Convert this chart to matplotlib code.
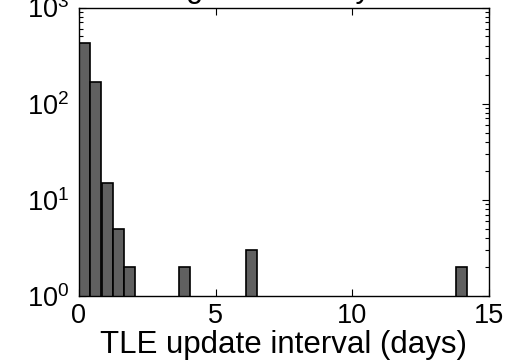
import matplotlib
matplotlib.use("Agg")
import matplotlib.pyplot as plt
from matplotlib.ticker import LogLocator, NullFormatter

plt.rcParams['font.family'] = ['Liberation Sans', 'DejaVu Sans']
plt.rcParams['mathtext.fontset'] = 'custom'
plt.rcParams['mathtext.rm'] = 'Liberation Sans'
plt.rcParams['mathtext.it'] = 'Liberation Sans'

# data
bin_centers = [0.20, 0.615, 1.03, 1.44, 1.85, 3.87, 6.31, 13.98]
counts = [424, 168, 15, 5, 2, 2, 3, 2]
bin_width = 0.41
x_ticks = [0, 5, 10, 15]
title_text = "Histogram of delay times"
x_label = "TLE update interval (days)"

fig = plt.figure(figsize=(5.18, 3.61), dpi=100)
ax = fig.add_axes([0.1525, 0.181, 0.7915, 0.798])

ax.bar(bin_centers, counts, width=bin_width, bottom=0, color='#606060',
       edgecolor='black', linewidth=1.2, zorder=2)
ax.set_yscale('log')
ax.set_ylim(1, 1000)
ax.set_xlim(0, 15)
ax.set_xticks(x_ticks)
ax.yaxis.set_major_locator(LogLocator(base=10, numticks=10))
ax.yaxis.set_minor_locator(LogLocator(base=10, subs=range(2, 10), numticks=20))
ax.yaxis.set_minor_formatter(NullFormatter())

ax.tick_params(which='both', direction='in', top=True, right=True,
               labelsize=19.5, width=0.8, colors='black')
ax.tick_params(which='major', length=5)
ax.tick_params(which='minor', length=3)
ax.tick_params(axis='x', pad=5)
ax.tick_params(axis='y', pad=7)
for s in ax.spines.values():
    s.set_linewidth(1.0)

ax.set_xlabel(x_label, fontsize=22.5, labelpad=1)
ax.set_title(title_text, fontsize=22, y=1.036, pad=0)

fig.savefig("out.png", dpi=100)
